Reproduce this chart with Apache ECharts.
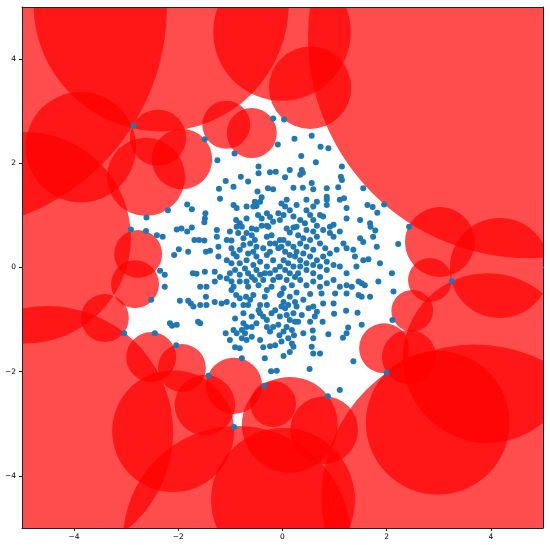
<!DOCTYPE html>
<html>
<head>
<meta charset="utf-8">
<script src="https://cdn.jsdelivr.net/npm/echarts@6/dist/echarts.min.js"></script>
<style>
html,body{margin:0;padding:0;background:#fff;}
#chart{width:550px;height:545px;}
</style>
</head>
<body>
<div id="chart"></div>
<script>
// Axis tick values
var tickValues = [-4, -2, 0, 2, 4];

// Circles: centre x, centre y, radius (data units)
var circleX = [-6.50,-2.33,-3.87,-4.94,-4.52,-2.62,-2.39,-1.93,-1.08,-0.59,-0.01,0.53,4.73,3.02,4.17,2.83,2.49,1.95,2.43,2.98,3.94,3.69,-3.41,-2.83,-2.77,-2.52,-1.93,-0.93,-1.49,-2.10,-0.87,-0.18,0.14,0.80,0.01];
var circleY = [5.00,5.06,2.31,0.57,-3.16,1.74,2.49,2.08,2.74,2.58,4.52,3.45,4.42,0.49,-0.01,-0.24,-0.83,-1.55,-1.72,-2.98,-1.74,-4.42,-0.97,-0.32,0.26,-1.72,-1.93,-2.27,-2.64,-3.14,-5.23,-2.62,-3.02,-3.12,-4.46];
var circleR = [4.28,2.45,1.06,2.03,2.42,0.75,0.54,0.58,0.46,0.48,1.32,0.79,4.24,0.67,0.96,0.42,0.40,0.48,0.52,1.38,1.63,2.94,0.46,0.46,0.46,0.48,0.46,0.54,0.58,1.17,2.19,0.44,0.92,0.65,1.38];

// Scatter points
var pointX = [
-2.86,-1.49,-0.18,-0.09,-0.92,-1.25,-0.46,-0.24,-0.13,-0.46,-0.80,-0.66,-1.09,-1.22,-0.94,-0.18,-0.28,-0.48,-1.20,-0.40,-0.53,-0.43,-1.83,-1.74,-2.20,-2.61,-1.48,-1.49,-1.50,-0.94,-0.88,-0.69,-0.56,-0.50,-0.30,-0.24,-0.08,-0.69,-0.89,-0.82,-0.47,-0.40,-0.18,-0.27,-2.91,-2.62,-2.41,-2.30,-2.03,-1.94,-1.83,-1.74,-1.26,-1.26,-0.88,-0.78,-0.59,-0.50,-0.40,-0.30,-1.69,-1.60,-1.50,-1.07,-0.98,-0.75,-0.59,-0.53,-0.30,-0.21,-0.24,-0.14,-0.05,-1.99,-2.08,-1.81,-1.47,-1.39,-1.23,-1.23,-0.94,-0.88,-0.66,-0.56,-0.50,-0.37,-0.30,-0.24,-0.08,-2.35,-2.26,-1.72,-1.65,-1.49,-1.30,-1.20,-1.30,-1.07,-0.98,-0.91,-0.82,-0.72,-0.66,-0.59,-0.69,-0.50,-0.43,-0.37,-0.46,-0.30,-0.24,-0.14,-0.18,-0.08,-2.26,-1.58,-1.46,-0.98,-0.66,-0.30,
-1.01,-0.85,-0.69,-0.75,-0.62,-0.50,-0.98,-0.82,-1.07,-0.98,-0.82,-0.69,-0.56,-0.43,-0.18,-1.01,-0.94,-0.21,-0.82,-0.53,-0.34,
0.03,0.23,0.56,0.36,0.64,0.73,0.88,0.14,0.37,0.39,0.34,0.05,1.14,1.12,1.14,0.56,0.21,0.39,0.59,0.85,1.07,1.55,0.85,0.85,1.10,1.18,0.08,0.27,0.46,0.66,0.85,0.59,1.23,1.63,1.73,1.82,1.95,-0.02,0.05,0.14,0.02,0.21,0.72,0.78,0.46,0.53,0.34,0.43,0.59,0.66,0.91,0.98,1.23,1.49,1.68,1.69,1.78,2.43,2.22,0.08,0.21,0.14,0.46,0.59,0.66,0.78,0.91,0.98,1.10,1.49,1.55,1.74,
0.02,0.11,0.21,0.05,0.14,0.24,0.02,0.11,0.21,0.05,0.14,0.24,0.08,0.18,0.02,
0.34,0.46,0.59,0.40,0.53,0.66,0.78,0.91,1.04,1.17,1.23,1.36,1.39,1.55,1.65,1.81,1.87,2.10,
0.34,0.46,0.59,0.72,0.85,0.98,1.10,1.23,0.34,0.46,0.59,0.72,0.85,0.98,1.10,1.23,1.46,1.52,1.58,1.84,3.25,
-0.05,0.27,0.30,0.40,0.53,0.72,0.82,-0.02,0.27,-0.05,0.34,0.46,0.59,0.85,-0.05,0.30,0.72,1.42,1.33,
-2.52,-1.97,-1.81,-1.76,-1.71,-1.58,-1.47,-1.46,-1.30,-1.17,-1.07,-0.94,-0.89,-0.82,-0.70,-0.62,-0.56,-0.75,-0.66,-0.34,-0.05,-0.43,-0.30,-0.02,-0.46,-0.37,-0.30,-0.43,-0.21,-0.14,-2.16,-2.12,-2.03,-1.62,-1.58,-0.91,-1.09,-0.94,-0.88,-0.78,-0.72,-0.78,-0.69,-0.59,-0.69,-0.75,-1.01,-0.43,-0.24,-0.18,-0.08,-0.06,-0.91,-0.82,-0.37,-0.24,-0.14,-0.34,-0.78,-0.22,-0.11,-0.35,-3.04,-2.45,-2.04,-1.42,-0.93,
-0.75,-0.59,-0.50,-0.59,-0.30,-0.05,
0.27,0.53,0.75,1.01,1.23,1.46,1.52,1.68,2.13,
0.02,0.11,0.24,0.27,0.08,0.14,0.24,0.30,0.50,0.59,0.66,0.62,0.53,0.77,0.99,1.22,1.44,1.52,1.26,1.23,1.16,0.02,0.18,0.22,0.11,-0.02,0.40,0.58,0.59,0.88,0.18,0.21,0.14,0.56,0.59,0.72,0.02,1.36,0.52,2.11,2.00,1.10,0.87,
-0.02,0.14,0.05,0.21,0.40,0.37,0.78,0.98,0.08
];
var pointY = [
2.72,2.46,2.86,2.36,2.19,2.06,1.94,1.83,1.84,1.81,1.74,1.65,1.66,1.51,1.55,1.50,1.52,1.46,1.32,1.35,1.26,1.26,1.21,1.12,1.10,0.96,1.04,0.94,0.87,1.20,1.14,1.17,1.17,1.18,1.04,0.97,1.04,0.94,0.91,0.85,1.01,0.94,0.88,0.78,0.73,0.70,0.62,0.59,0.73,0.75,0.69,0.77,0.72,0.59,0.78,0.78,0.75,0.73,0.80,0.80,0.53,0.53,0.52,0.53,0.52,0.43,0.62,0.53,0.59,0.62,0.46,0.46,0.53,0.35,0.24,0.30,0.30,0.32,0.40,0.21,0.27,0.21,0.27,0.30,0.21,0.37,0.24,0.30,0.37,-0.06,-0.14,-0.11,-0.12,-0.08,-0.08,-0.18,-0.27,-0.21,-0.27,-0.05,-0.14,-0.02,-0.11,-0.18,-0.27,-0.05,-0.14,-0.24,-0.34,0.02,-0.11,-0.05,-0.24,-0.18,-0.37,-0.37,-0.37,-0.43,-0.37,-0.43,
0.69,0.66,0.66,0.56,0.46,0.40,0.37,0.34,0.14,0.08,0.08,0.14,0.05,0.11,0.14,-0.11,-0.37,-0.37,-0.27,-0.24,-0.11,
2.84,2.47,2.53,2.14,2.02,2.32,2.29,1.87,1.87,1.82,1.78,1.73,1.94,1.74,1.68,1.62,1.53,1.53,1.50,1.52,1.54,1.52,1.36,1.30,1.30,1.33,1.30,1.20,1.30,1.26,1.20,1.17,1.14,1.20,1.16,1.05,1.21,1.23,1.17,1.10,1.01,0.98,1.01,0.98,1.10,1.01,0.91,0.85,0.91,0.80,0.78,0.82,0.94,0.91,0.85,0.78,0.71,0.78,0.45,0.75,0.77,0.67,0.72,0.69,0.59,0.72,0.66,0.59,0.69,0.56,0.49,0.59,
0.53,0.46,0.40,0.30,0.24,0.21,0.14,0.08,0.02,-0.05,-0.11,-0.18,-0.24,-0.34,-0.40,
0.46,0.40,0.34,0.27,0.21,0.14,0.21,0.27,0.34,0.46,0.37,0.34,0.21,0.14,0.16,0.40,0.08,-0.11,
0.02,-0.05,-0.11,0.02,-0.05,0.05,0.02,-0.11,-0.24,-0.34,-0.27,-0.37,-0.30,-0.24,-0.37,-0.34,-0.27,-0.30,-0.34,-0.27,-0.26,
0.91,0.78,0.62,0.56,0.53,0.46,0.37,0.40,0.30,0.02,0.14,0.08,0.05,0.11,-0.18,-0.11,-0.18,0.02,-0.37,
-0.62,-0.64,-0.64,-0.69,-0.75,-0.72,-0.56,-0.72,-0.66,-0.69,-0.66,-0.72,-0.53,-0.59,-0.56,-0.62,-0.53,-0.72,-0.72,-0.56,-0.53,-0.72,-0.72,-0.75,-0.82,-0.94,-1.01,-0.88,-0.88,-0.82,-1.07,-1.12,-1.10,-1.04,-1.07,-0.98,-1.26,-1.20,-1.26,-1.20,-1.26,-1.36,-1.39,-1.33,-1.14,-1.07,-1.39,-1.39,-1.23,-1.14,-1.10,-1.30,-1.53,-1.55,-1.53,-1.51,-1.49,-1.74,-1.74,-1.99,-1.98,-2.27,-1.26,-1.26,-1.49,-2.08,-3.06,
-0.88,-0.94,-1.07,-1.14,-1.14,-0.94,
-0.48,-0.51,-0.50,-0.50,-0.50,-0.53,-0.56,-0.56,-0.46,
-0.66,-0.72,-0.66,-0.75,-0.91,-1.01,-1.04,-1.04,-0.78,-0.75,-0.85,-0.94,-1.04,-1.04,-0.89,-0.83,-0.87,-1.10,-1.15,-1.26,-1.35,-1.23,-1.20,-1.30,-1.36,-1.42,-1.26,-1.21,-1.36,-1.28,-1.46,-1.52,-1.62,-1.52,-1.65,-1.65,-1.70,-1.80,-1.95,-1.01,-2.02,-2.35,-2.47,
-0.50,-0.56,-0.78,-0.88,-0.62,-0.91,-0.69,-0.69,-1.14
];

var circleData = circleX.map(function(x, i){ return [x, circleY[i], circleR[i]]; });
var n = Math.min(pointX.length, pointY.length);
var pointData = [];
for (var i = 0; i < n; i++) pointData.push([pointX[i], pointY[i]]);

function fmt(v){ return v < 0 ? '\u2212' + Math.abs(v) : String(v); }

var chart = echarts.init(document.getElementById('chart'), null, {renderer:'canvas'});
var axisFont = {fontFamily:'DejaVu Sans', fontSize:7.5, color:'#000'};
chart.setOption({
  animation:false,
  backgroundColor:'#fff',
  grid:{left:22, top:7, width:521, height:521, containLabel:false},
  xAxis:[{
    type:'value', min:-5, max:5, z:10,
    axisLine:{show:true, onZero:false, lineStyle:{color:'#222', width:1}},
    axisTick:{show:true, length:3, lineStyle:{color:'#222', width:1}, customValues:tickValues},
    axisLabel:Object.assign({margin:5, formatter:fmt, customValues:tickValues}, axisFont),
    splitLine:{show:false}
  },{
    type:'value', min:-5, max:5, position:'top', z:10,
    axisLine:{show:true, onZero:false, lineStyle:{color:'#222', width:1}},
    axisTick:{show:false}, axisLabel:{show:false}, splitLine:{show:false}
  }],
  yAxis:[{
    type:'value', min:-5, max:5, z:10,
    axisLine:{show:true, onZero:false, lineStyle:{color:'#222', width:1}},
    axisTick:{show:true, length:3, lineStyle:{color:'#222', width:1}, customValues:tickValues},
    axisLabel:Object.assign({margin:6, formatter:fmt, customValues:tickValues}, axisFont),
    splitLine:{show:false}
  },{
    type:'value', min:-5, max:5, position:'right', z:10,
    axisLine:{show:true, onZero:false, lineStyle:{color:'#222', width:1}},
    axisTick:{show:false}, axisLabel:{show:false}, splitLine:{show:false}
  }],
  series:[{
    type:'custom',
    silent:true,
    z:2,
    data:circleData,
    renderItem:function(params, api){
      var c = api.coord([api.value(0), api.value(1)]);
      var s = api.size([api.value(2), api.value(2)]);
      var cs = params.coordSys;
      return {
        type:'circle',
        shape:{cx:c[0], cy:c[1], r:s[0]},
        style:{fill:'rgba(255,0,0,0.7)', stroke:null},
        clipPath:{type:'rect', shape:{x:cs.x, y:cs.y, width:cs.width, height:cs.height}}
      };
    }
  },{
    type:'scatter',
    silent:true,
    z:5,
    symbolSize:6,
    itemStyle:{color:'#1f77b4', opacity:1},
    data:pointData
  }]
});
</script>
</body>
</html>
